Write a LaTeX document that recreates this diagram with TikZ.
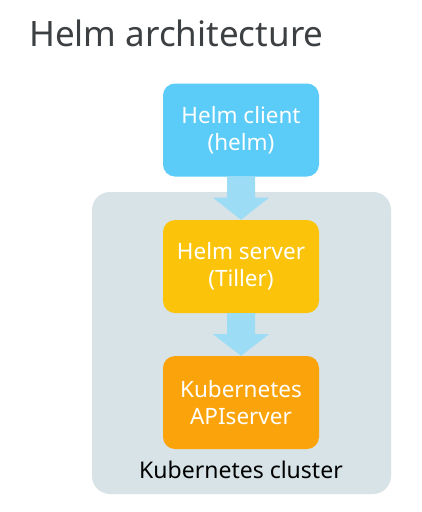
\documentclass[tikz,border=0pt]{standalone}
\usepackage{fontspec}
\setmainfont{Noto Sans}
\definecolor{titlegrey}{HTML}{3C4043}
\definecolor{clientblue}{HTML}{5BCBF7}
\definecolor{arrowblue}{HTML}{9DDCF5}
\definecolor{clustergrey}{HTML}{D7E3E6}
\definecolor{serveryellow}{HTML}{FBC40A}
\definecolor{apiorange}{HTML}{FBA30A}
\begin{document}
\begin{tikzpicture}[x=1pt,y=-1pt,
  box/.style={rounded corners=12pt, minimum width=156pt, minimum height=93pt,
    text=white, align=center, font=\fontsize{22.5}{27}\selectfont, inner sep=0pt},
  fatarrow/.style={fill=arrowblue, draw=none}]
\useasboundingbox (0,0) rectangle (421,512);
\fill[white] (0,0) rectangle (421,512);
\node[anchor=base west, text=titlegrey, font=\fontsize{35}{42}\selectfont, inner sep=0pt] (title) at (29,46) {Helm architecture};
\fill[clustergrey, rounded corners=18pt] (92,192) rectangle (391,494);
\node[box, fill=clientblue] (client) at (241,130) {Helm client\\(helm)};
\node[box, fill=serveryellow] (server) at (241,266.5) {Helm server\\(Tiller)};
\node[box, fill=apiorange] (api) at (241,402.5) {Kubernetes\\APIserver};
\node[anchor=base, font=\fontsize{23}{28}\selectfont, inner sep=0pt] (cluster) at (241,478) {Kubernetes cluster};
% arrows
\fill[fatarrow] ([xshift=-14pt]client.south) -- ([xshift=-14pt,yshift=-21pt]client.south)
  -- ([xshift=-28pt,yshift=-21pt]client.south) -- (server.north)
  -- ([xshift=28pt,yshift=-21pt]client.south) -- ([xshift=14pt,yshift=-21pt]client.south)
  -- ([xshift=14pt]client.south) -- cycle;
\fill[fatarrow] ([xshift=-14pt]server.south) -- ([xshift=-14pt,yshift=-21pt]server.south)
  -- ([xshift=-28pt,yshift=-21pt]server.south) -- (api.north)
  -- ([xshift=28pt,yshift=-21pt]server.south) -- ([xshift=14pt,yshift=-21pt]server.south)
  -- ([xshift=14pt]server.south) -- cycle;
\end{tikzpicture}
\end{document}
